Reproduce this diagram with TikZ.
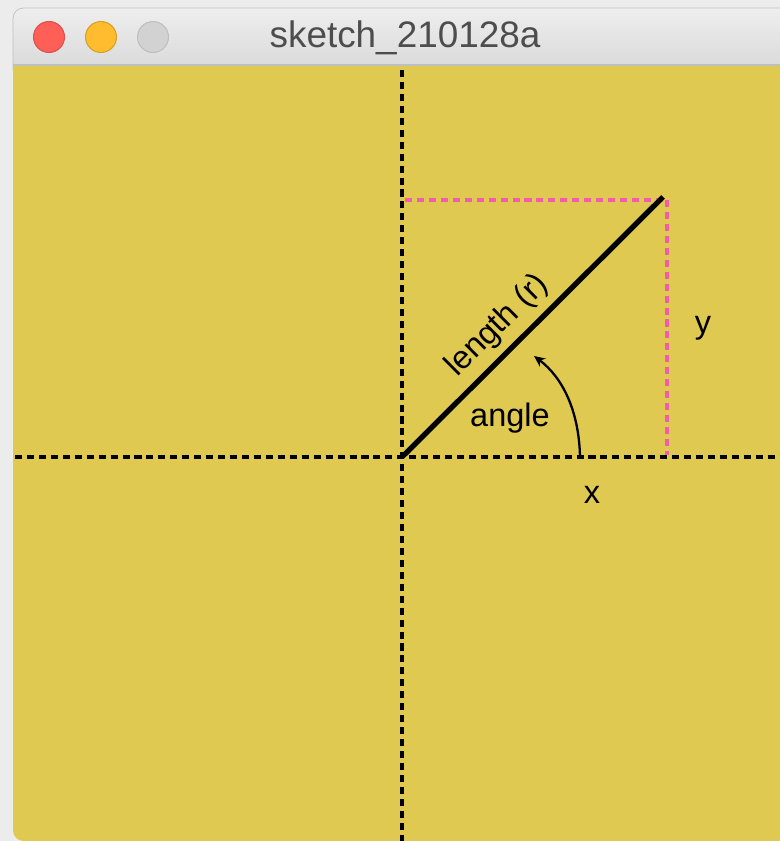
\documentclass[tikz,border=0pt]{standalone}
\usepackage{fontspec}
\setmainfont{Liberation Sans}
\usetikzlibrary{arrows.meta, positioning}
\definecolor{sketchyellow}{RGB}{223, 201, 80}
\definecolor{guidepink}{RGB}{242, 92, 170}
\definecolor{desk}{RGB}{236, 236, 236}
\definecolor{bartop}{RGB}{238, 238, 238}
\definecolor{barbottom}{RGB}{214, 214, 214}
\definecolor{titlegray}{RGB}{77, 77, 77}
\definecolor{closered}{RGB}{255, 95, 87}
\definecolor{minyellow}{RGB}{254, 188, 46}
\definecolor{zoomgray}{RGB}{210, 210, 210}

\begin{document}
\begin{tikzpicture}[x=0.02cm, y=-0.02cm,
    light/.style={circle, minimum size=0.62cm, inner sep=0pt, line width=0.6pt},
    axis/.style={line width=2pt, dash pattern=on 4pt off 2.8pt},
    guide/.style={guidepink, line width=1.9pt, dash pattern=on 4pt off 2.8pt},
    label/.style={font=\fontsize{18.5}{22}\selectfont, text=black}]
        \useasboundingbox (0,0) rectangle (780,841);

        % Window frame
        \fill[desk] (0,0) rectangle (780,841);
        \shade[top color=bartop, bottom color=barbottom, draw=black!25, rounded corners=6pt] (13,8) rectangle (800,80);
        \fill[sketchyellow] (13,65) -- (800,65) -- (800,841) [rounded corners=6pt] -- (13,841) [sharp corners] -- cycle;
        \draw[black!25, line width=0.6pt] (13,65) -- (780,65);

        % Title bar buttons
        \node[light, fill=closered, draw=closered!85!black] (close) at (49,37) {};
        \node[light, fill=minyellow, draw=minyellow!85!black] (minimise) at (101,37) {};
        \node[light, fill=zoomgray, draw=black!25] (zoom) at (153,37) {};
        \node[text=titlegray, font=\fontsize{21}{25}\selectfont] (title) at (405,38) {sketch\_210128a};

        % Axes
        \coordinate (top) at (402,70);
        \coordinate (bottom) at (402,841);
        \coordinate (left) at (15,457);
        \coordinate (right) at (780,457);
        \coordinate (origin) at (402,457);
        \draw[axis] (top) -- (bottom);
        \draw[axis] (left) -- (right);

        % Radius and its projections
        \coordinate (tip) at (663,197);
        \coordinate (ycorner) at (405,200);
        \coordinate (xcorner) at (667,200);
        \coordinate (xfoot) at (667,455);
        \draw[guide] (ycorner) -- (xcorner);
        \draw[guide] (xcorner) -- (xfoot);
        \draw[line width=3pt] (origin) -- node[pos=0.435, sloped, above=1pt, label] (radius) {length (r)} (tip);

        % Angle arrow
        \coordinate (arcstart) at (580,457);
        \coordinate (arcend) at (534,356);
        \draw[line width=1.3pt, -{Stealth[length=0.22cm, width=0.2cm]}] (arcstart) .. controls (579,410) and (562,377) .. (arcend);

        % Labels
        \node[label] (anglelabel) at (510,418) {angle};
        \node[label] (xlabel) at (592,495) {x};
        \node[label] (ylabel) at (703,328) {y};
\end{tikzpicture}
\end{document}
